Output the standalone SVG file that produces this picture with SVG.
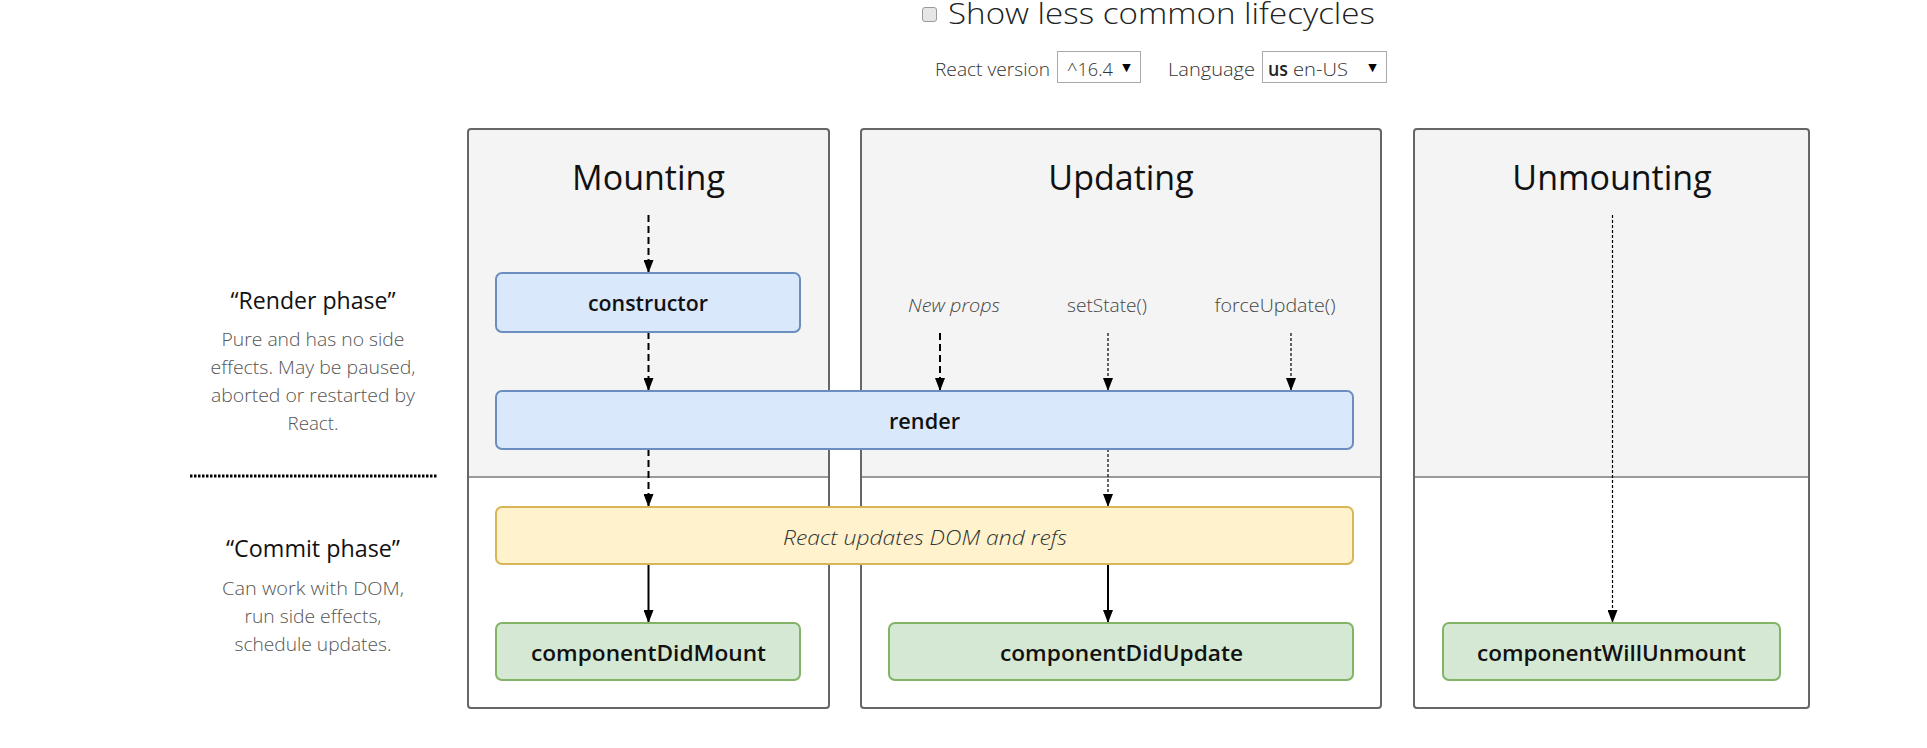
<svg xmlns="http://www.w3.org/2000/svg" width="1927" height="748" viewBox="0 0 1927 748">
<defs>
<marker id="arr" viewBox="0 0 13 10" refX="13" refY="5" markerWidth="13" markerHeight="10" markerUnits="userSpaceOnUse" orient="auto">
<path d="M0,0 L13,5 L0,10 z" fill="#000"/>
</marker>
</defs>
<style>
text{font-family:"Open Sans","Noto Sans","Liberation Sans",sans-serif}
.title{font-size:34px;fill:#111;text-anchor:middle}
.node{font-size:21px;font-weight:600;fill:#111;text-anchor:middle}
.lbl{font-size:19px;font-weight:300;fill:#444;text-anchor:middle}
.phase{font-size:23px;fill:#111;text-anchor:middle}
.desc{font-size:19px;font-weight:300;fill:#555;text-anchor:middle}
.colbg{fill:#f4f4f4;stroke:none}
.colbot{fill:#fff;stroke:none}
.colline{stroke:#9a9a9a;stroke-width:2}
.colborder{fill:none;stroke:#666;stroke-width:2}
.blue{fill:#dae8fc;stroke:#6c8ebf;stroke-width:2}
.yellow{fill:#fff2cc;stroke:#d6b656;stroke-width:2}
.green{fill:#d5e8d4;stroke:#82b366;stroke-width:2}
.dash{fill:none;stroke:#000;stroke-width:2;stroke-dasharray:7 4;marker-end:url(#arr)}
.dot{fill:none;stroke:#000;stroke-width:1.2;stroke-dasharray:3 2;marker-end:url(#arr)}
.solid{fill:none;stroke:#000;stroke-width:2;marker-end:url(#arr)}
.sel{fill:#fff;stroke:#a9a9a9;stroke-width:1}
.hdr{font-size:19px;font-weight:300;fill:#333}
</style>
<rect width="1927" height="748" fill="#fff"/>

<g id="header">
<rect x="922.5" y="7.5" width="14" height="14" rx="2.5" fill="#e6e6e6" stroke="#9a9a9a" stroke-width="1"/>
<text x="948" y="24" style="font-size:29px;font-weight:300;fill:#222" textLength="427" lengthAdjust="spacingAndGlyphs">Show less common lifecycles</text>
<text class="hdr" x="935" y="76" textLength="115" lengthAdjust="spacingAndGlyphs">React version</text>
<rect class="sel" x="1057.5" y="51.5" width="83" height="31"/>
<text class="hdr" x="1067" y="76" textLength="46" lengthAdjust="spacingAndGlyphs">^16.4</text>
<text x="1126.5" y="71" style="font-size:11px;fill:#000;text-anchor:middle;font-family:'DejaVu Sans',sans-serif">▼</text>
<text class="hdr" x="1168" y="76" textLength="87" lengthAdjust="spacingAndGlyphs">Language</text>
<rect class="sel" x="1262.5" y="51.5" width="124" height="31"/>
<text x="1268" y="76" style="font-size:19px;font-weight:600;fill:#222" textLength="20" lengthAdjust="spacingAndGlyphs">us</text>
<text class="hdr" x="1293" y="76" textLength="55" lengthAdjust="spacingAndGlyphs">en-US</text>
<text x="1372.5" y="71" style="font-size:11px;fill:#000;text-anchor:middle;font-family:'DejaVu Sans',sans-serif">▼</text>
</g>

<g id="render-phase-legend">
<text class="phase" x="313" y="309" textLength="165" lengthAdjust="spacingAndGlyphs">“Render phase”</text>
<text class="desc" x="313" y="346" textLength="183" lengthAdjust="spacingAndGlyphs">Pure and has no side</text>
<text class="desc" x="313" y="374" textLength="205" lengthAdjust="spacingAndGlyphs">effects. May be paused,</text>
<text class="desc" x="313" y="402" textLength="204" lengthAdjust="spacingAndGlyphs">aborted or restarted by</text>
<text class="desc" x="313" y="430" textLength="51" lengthAdjust="spacingAndGlyphs">React.</text>
</g>
<line id="phase-separator" x1="190" y1="476" x2="437" y2="476" stroke="#000" stroke-width="3" stroke-dasharray="2.5 1.5"/>
<g id="commit-phase-legend">
<text class="phase" x="313" y="557" textLength="174" lengthAdjust="spacingAndGlyphs">“Commit phase”</text>
<text class="desc" x="313" y="595" textLength="182" lengthAdjust="spacingAndGlyphs">Can work with DOM,</text>
<text class="desc" x="313" y="623" textLength="137" lengthAdjust="spacingAndGlyphs">run side effects,</text>
<text class="desc" x="313" y="651" textLength="157" lengthAdjust="spacingAndGlyphs">schedule updates.</text>
</g>

<g id="col-mounting">
<rect class="colbg" x="468" y="129" width="361" height="579" rx="3"/>
<rect class="colbot" x="469" y="477" width="359" height="230"/>
<line class="colline" x1="468" y1="477" x2="829" y2="477"/>
<rect class="colborder" x="468" y="129" width="361" height="579" rx="3"/>
<text class="title" x="648.5" y="190">Mounting</text>
</g>
<g id="col-updating">
<rect class="colbg" x="861" y="129" width="520" height="579" rx="3"/>
<rect class="colbot" x="862" y="477" width="518" height="230"/>
<line class="colline" x1="861" y1="477" x2="1381" y2="477"/>
<rect class="colborder" x="861" y="129" width="520" height="579" rx="3"/>
<text class="title" x="1121" y="190">Updating</text>
<text class="lbl" x="954" y="312" font-style="italic" textLength="92" lengthAdjust="spacingAndGlyphs">New props</text>
<text class="lbl" x="1107" y="312" textLength="80" lengthAdjust="spacingAndGlyphs">setState()</text>
<text class="lbl" x="1275" y="312" textLength="121" lengthAdjust="spacingAndGlyphs">forceUpdate()</text>
</g>
<g id="col-unmounting">
<rect class="colbg" x="1414" y="129" width="395" height="579" rx="3"/>
<rect class="colbot" x="1415" y="477" width="393" height="230"/>
<line class="colline" x1="1414" y1="477" x2="1809" y2="477"/>
<rect class="colborder" x="1414" y="129" width="395" height="579" rx="3"/>
<text class="title" x="1612" y="190">Unmounting</text>
</g>

<g id="connectors">
<line class="dash" x1="648.5" y1="215" x2="648.5" y2="273"/>
<line class="dash" x1="648.5" y1="332" x2="648.5" y2="391"/>
<line class="dash" x1="648.5" y1="449" x2="648.5" y2="507"/>
<line class="solid" x1="648.5" y1="564" x2="648.5" y2="623"/>
<line class="dash" x1="940" y1="333" x2="940" y2="391"/>
<line class="dot" x1="1108" y1="333" x2="1108" y2="391"/>
<line class="dot" x1="1291" y1="333" x2="1291" y2="391"/>
<line class="dot" x1="1108" y1="449" x2="1108" y2="507"/>
<line class="solid" x1="1108" y1="564" x2="1108" y2="623"/>
<line class="dot" x1="1612.5" y1="215" x2="1612.5" y2="623"/>
</g>

<g id="constructor">
<rect class="blue" x="496" y="273" width="304" height="59" rx="6"/>
<text class="node" x="648" y="311" textLength="120" lengthAdjust="spacingAndGlyphs">constructor</text>
</g>
<g id="render">
<rect class="blue" x="496" y="391" width="857" height="58" rx="6"/>
<text class="node" x="924.5" y="429" textLength="71" lengthAdjust="spacingAndGlyphs">render</text>
</g>
<g id="react-updates-dom">
<rect class="yellow" x="496" y="507" width="857" height="57" rx="6"/>
<text x="925" y="545" style="font-size:21px;font-weight:300;font-style:italic;fill:#333;text-anchor:middle" textLength="284" lengthAdjust="spacingAndGlyphs">React updates DOM and refs</text>
</g>
<g id="componentDidMount">
<rect class="green" x="496" y="623" width="304" height="57" rx="6"/>
<text class="node" x="648.5" y="661" textLength="235" lengthAdjust="spacingAndGlyphs">componentDidMount</text>
</g>
<g id="componentDidUpdate">
<rect class="green" x="889" y="623" width="464" height="57" rx="6"/>
<text class="node" x="1121.5" y="661" textLength="243" lengthAdjust="spacingAndGlyphs">componentDidUpdate</text>
</g>
<g id="componentWillUnmount">
<rect class="green" x="1443" y="623" width="337" height="57" rx="6"/>
<text class="node" x="1611.5" y="661" textLength="269" lengthAdjust="spacingAndGlyphs">componentWillUnmount</text>
</g>
</svg>
